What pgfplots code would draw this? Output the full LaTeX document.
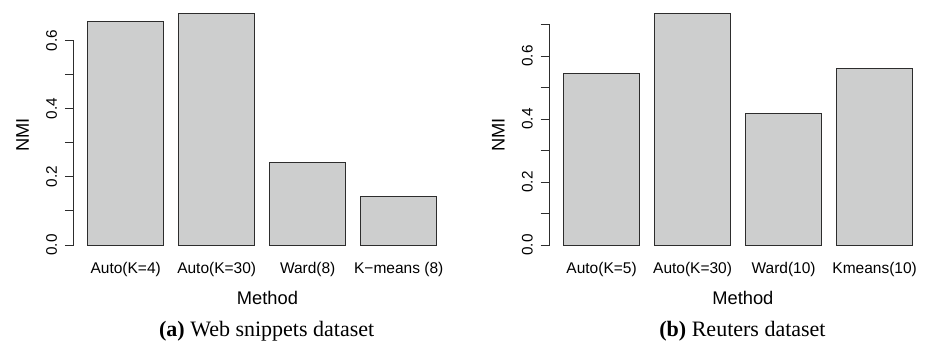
\documentclass[border=0pt]{standalone}
\usepackage{pgfplots}
\pgfplotsset{compat=1.18}
\usepackage{fontspec}
\setmainfont{Liberation Sans}
\newfontfamily\capfont{Liberation Serif}
\definecolor{barfill}{RGB}{205,206,206}
\definecolor{edge}{RGB}{45,45,45}
\pgfplotsset{rstyle/.style={
  scale only axis, width=376.8pt, height=250pt,
  axis line style={draw=none},
  ybar, bar width=1,
  xmin=0.016, xmax=4.984,
  xtick={0.7,1.9,3.1,4.3},
  xtick style={draw=none},
  xtick pos=bottom, ytick pos=left,
  tick align=outside, major tick length=9pt,
  ytick style={edge, line width=0.8pt},
  xticklabel style={anchor=center, yshift=-6.3pt, font=\fontsize{15.5}{18}\selectfont},
  yticklabel shift=13.3pt,
  yticklabel style={anchor=center, rotate=90, font=\fontsize{15.3}{18}\selectfont},
  label style={font=\fontsize{18.3}{22}\selectfont},
  xlabel style={anchor=center},
  ylabel style={anchor=center, rotate=0},
  clip=false,
}}
\begin{document}
\begin{tikzpicture}
\path[use as bounding box] (0,0) rectangle (931pt,-345pt);
\begin{axis}[rstyle, at={(73.8pt,-254.2pt)}, anchor=south west,
  ymin=-0.0272, ymax=0.7062,
  ytick={0,0.1,0.2,0.3,0.4,0.5,0.6},
  yticklabels={0.0,,0.2,,0.4,,0.6},
  xticklabels={Auto(K=4),Auto(K=30),Ward(8),K\textminus means (8)},
  xlabel={Method}, ylabel={NMI},
  xlabel style={at={(axis description cs:0.514,-0.1752)}},
  ylabel style={at={(axis description cs:-0.1361,0.4768)}},
]
\addplot[fill=barfill, draw=edge, line width=0.8pt] coordinates {(0.7,0.656) (1.9,0.679) (3.1,0.241) (4.3,0.142)};
\draw[edge, line width=0.8pt] (axis cs:0.016,0) -- (axis cs:0.016,0.6);
\end{axis}
\begin{axis}[rstyle, at={(549.7pt,-254.2pt)}, anchor=south west,
  ymin=-0.0294, ymax=0.7644,
  ytick={0,0.1,0.2,0.3,0.4,0.5,0.6,0.7},
  yticklabels={0.0,,0.2,,0.4,,0.6,},
  xticklabels={Auto(K=5),Auto(K=30),Ward(10),Kmeans(10)},
  xlabel={Method}, ylabel={NMI},
  xlabel style={at={(axis description cs:0.5127,-0.1752)}},
  ylabel style={at={(axis description cs:-0.1365,0.4768)}},
]
\addplot[fill=barfill, draw=edge, line width=0.8pt] coordinates {(0.7,0.545) (1.9,0.735) (3.1,0.418) (4.3,0.560)};
\draw[edge, line width=0.8pt] (axis cs:0.016,0) -- (axis cs:0.016,0.7);
\end{axis}
\node[font=\capfont\fontsize{22}{26}\selectfont] at (266.7pt,-331pt) {\textbf{(a)} Web snippets dataset};
\node[font=\capfont\fontsize{22}{26}\selectfont] at (742.5pt,-331pt) {\textbf{(b)} Reuters dataset};
\end{tikzpicture}
\end{document}
